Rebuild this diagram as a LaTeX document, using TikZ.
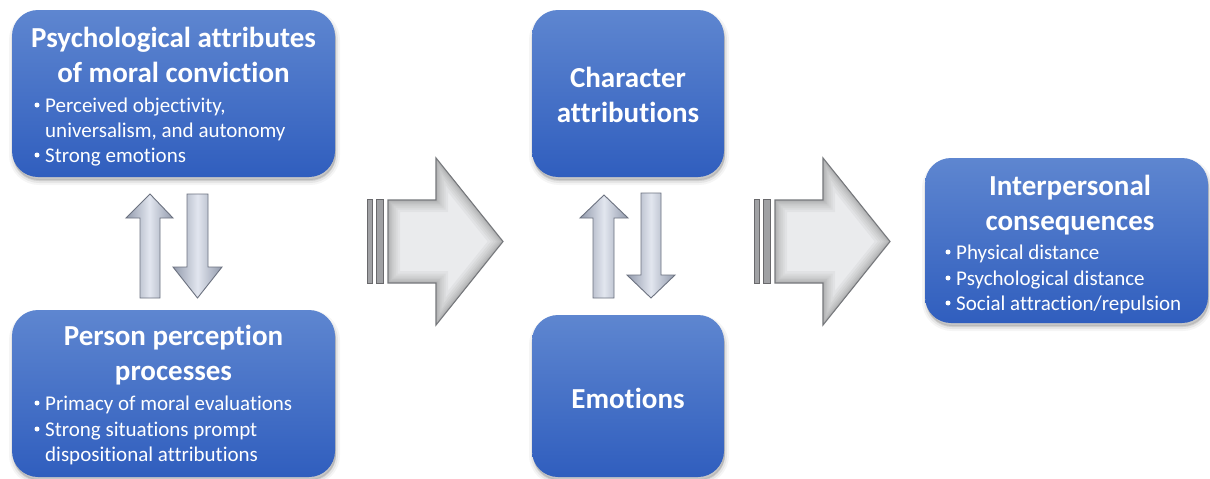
\documentclass[tikz,border=0pt]{standalone}
\usepackage{fontspec}
\setmainfont{Carlito}[Ligatures={NoCommon,NoContextual}]
\definecolor{boxtop}{RGB}{94,134,208}
\definecolor{boxbot}{RGB}{48,94,190}
\definecolor{arrfill}{RGB}{234,235,237}
\definecolor{arredge}{RGB}{118,120,124}
\definecolor{baredge}{RGB}{105,105,108}
\definecolor{barfill}{RGB}{160,161,164}
\definecolor{smalledge}{RGB}{108,114,128}
\definecolor{smallmid}{RGB}{226,230,239}
\definecolor{smallside}{RGB}{146,154,172}
\tikzset{
  box/.style={rectangle, rounded corners=26pt, top color=boxtop, bottom color=boxbot, draw=none, inner sep=0pt,
    preaction={fill=black, draw=black, line width=8pt, opacity=0.04, transform canvas={xshift=1pt,yshift=-4pt}},
    preaction={fill=black, draw=black, line width=4pt, opacity=0.06, transform canvas={xshift=1pt,yshift=-4pt}},
    preaction={fill=black, opacity=0.10, transform canvas={xshift=1pt,yshift=-3pt}}},
  title/.style={text=white, font=\fontsize{29}{35}\bfseries\selectfont, anchor=base, inner sep=0pt},
  bul/.style={text=white, font=\fontsize{21}{25}\selectfont, anchor=base west, inner sep=0pt},
  dot/.style={circle, fill=white, inner sep=0pt, minimum size=5pt},
  smallarrow/.style={left color=smallside, right color=smallside, middle color=smallmid, draw=smalledge, line width=0.9pt, line join=miter},
  bar/.style={fill=barfill, draw=baredge, line width=0.8pt},
  bevel/.style={black, line join=miter},
}
\begin{document}
\begin{tikzpicture}[x=1pt,y=1pt]
\fill[white] (0,0) rectangle (1210,-479);
\path[use as bounding box] (0,0) rectangle (1210,-479);

% boxes
\node[box, minimum width=323pt, minimum height=167pt] (b1) at (173.5,-93.5) {};
\node[box, minimum width=323pt, minimum height=167pt] (b2) at (173.5,-393.5) {};
\node[box, minimum width=192pt, minimum height=167pt] (b3) at (628,-93.5) {};
\node[box, minimum width=192pt, minimum height=162pt] (b4) at (628,-396) {};
\node[box, minimum width=283pt, minimum height=165pt] (b5) at (1066.5,-240.5) {};

% box 1 text
\node[title] (t1a) at (173.5,-47) {Psychological attributes};
\node[title] (t1b) at (173.5,-82) {of moral conviction};
\node[dot] (d1a) at (37,-105) {};
\node[bul] (l1a) at (45,-112) {Perceived objectivity,};
\node[bul] (l1b) at (45,-137) {universalism, and autonomy};
\node[dot] (d1b) at (37,-155) {};
\node[bul] (l1c) at (45,-162) {Strong emotions};

% box 2 text
\node[title] (t2a) at (173.5,-345) {Person perception};
\node[title] (t2b) at (173.5,-380) {processes};
\node[dot] (d2a) at (37,-403) {};
\node[bul] (l2a) at (45,-410) {Primacy of moral evaluations};
\node[dot] (d2b) at (37,-429) {};
\node[bul] (l2b) at (45,-436) {Strong situations prompt};
\node[bul] (l2c) at (45,-461) {dispositional attributions};

% box 3, 4 text
\node[title] (t3a) at (628,-87) {Character};
\node[title] (t3b) at (628,-122) {attributions};
\node[title] (t4a) at (628,-408) {Emotions};

% box 5 text
\node[title] (t5a) at (1070,-195) {Interpersonal};
\node[title] (t5b) at (1070,-230) {consequences};
\node[dot] (d5a) at (948,-252) {};
\node[bul] (l5a) at (956,-259) {Physical distance};
\node[dot] (d5b) at (948,-278) {};
\node[bul] (l5b) at (956,-285) {Psychological distance};
\node[dot] (d5c) at (948,-303) {};
\node[bul] (l5c) at (956,-310) {Social attraction/repulsion};

% small double arrows (left)
\path[smallarrow] (150,-194) -- (173,-218) -- (160,-218) -- (160,-298) -- (140,-298) -- (140,-218) -- (126,-218) -- cycle;
\path[smallarrow] (187,-194) -- (208,-194) -- (208,-267) -- (222,-267) -- (197.5,-298) -- (173,-267) -- (187,-267) -- cycle;
% small double arrows (middle)
\path[smallarrow] (604,-195) -- (628,-218) -- (614,-218) -- (614,-298) -- (593,-298) -- (593,-218) -- (580,-218) -- cycle;
\path[smallarrow] (641,-193) -- (661,-193) -- (661,-275) -- (675,-275) -- (651,-298) -- (627,-275) -- (641,-275) -- cycle;

% big block arrows
\foreach \s in {0,387}{
  \begin{scope}[xshift=\s pt]
    \path[bar] (367,-199) rectangle (372,-283);
    \path[bar] (376,-199) rectangle (383,-283);
    \fill[arrfill] (388,-200) -- (436,-200) -- (436,-158) -- (503,-241.5) -- (436,-325) -- (436,-283) -- (388,-283) -- cycle;
    \begin{scope}
      \clip (388,-200) -- (436,-200) -- (436,-158) -- (503,-241.5) -- (436,-325) -- (436,-283) -- (388,-283) -- cycle;
      \foreach \w in {24,19,15,11,8,5,3}{
        \draw[bevel, opacity=0.035, line width=\w pt] (388,-200) -- (436,-200) -- (436,-158) -- (503,-241.5) -- (436,-325) -- (436,-283) -- (388,-283) -- cycle;
      }
    \end{scope}
    \draw[arredge, line width=1.1pt, line join=miter] (388,-200) -- (436,-200) -- (436,-158) -- (503,-241.5) -- (436,-325) -- (436,-283) -- (388,-283) -- cycle;
  \end{scope}
}
\end{tikzpicture}
\end{document}
